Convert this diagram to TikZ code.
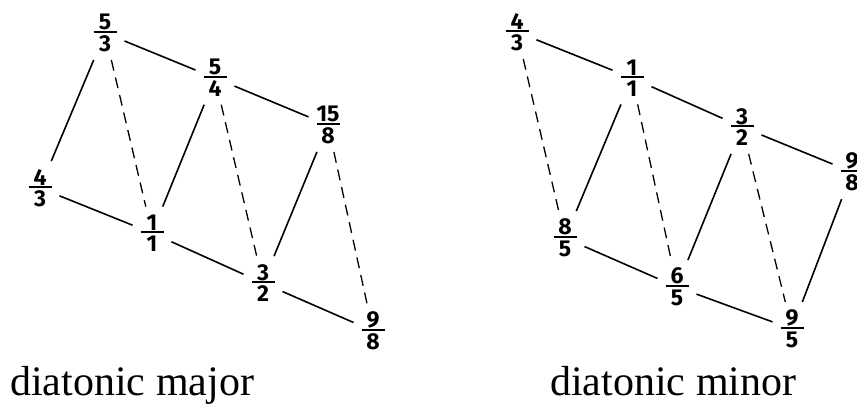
\documentclass[tikz,border=0pt]{standalone}
\usepackage{fontspec}
\setmainfont{Liberation Serif}
\newfontfamily\digitfont{Fira Sans}
\usepackage{tikz}
\usetikzlibrary{positioning}

\newcommand{\ratio}[2]{\shortstack{#1\\[-2pt]\rule{1.0em}{1.6pt}\\#2}}

\begin{document}
\begin{tikzpicture}[
  x=1pt, y=-1pt,
  tone/.style={
    rectangle, inner sep=3pt, outer sep=5pt,
    font=\digitfont\fontsize{23}{23}\selectfont\bfseries
  },
  solidln/.style={line width=1.6pt, black},
  dashln/.style={line width=1.3pt, black, dash pattern=on 11pt off 7pt},
  caption/.style={anchor=base west, inner sep=0pt, font=\fontsize{42}{46}\selectfont}
]
\useasboundingbox (0,0) rectangle (857,405);

% ---- Diatonic major ----
\node[tone] (ma53)  at (105, 33)  {\ratio{5}{3}};
\node[tone] (ma54)  at (215, 78)  {\ratio{5}{4}};
\node[tone] (ma158) at (328,125)  {\ratio{15}{8}};
\node[tone] (ma43)  at (40, 188)  {\ratio{4}{3}};
\node[tone] (ma11)  at (152,233)  {\ratio{1}{1}};
\node[tone] (ma32)  at (263,283)  {\ratio{3}{2}};
\node[tone] (ma98)  at (373,331)  {\ratio{9}{8}};

\draw[solidln] (ma53) -- (ma54);
\draw[solidln] (ma54) -- (ma158);
\draw[solidln] (ma43) -- (ma11);
\draw[solidln] (ma11) -- (ma32);
\draw[solidln] (ma32) -- (ma98);
\draw[solidln] (ma53) -- (ma43);
\draw[solidln] (ma54) -- (ma11);
\draw[solidln] (ma158) -- (ma32);
\draw[dashln]  (ma53) -- (ma11);
\draw[dashln]  (ma54) -- (ma32);
\draw[dashln]  (ma158) -- (ma98);

% ---- Diatonic minor ----
\node[tone] (mi43)  at (517, 32)  {\ratio{4}{3}};
\node[tone] (mi11)  at (632, 78)  {\ratio{1}{1}};
\node[tone] (mi32)  at (742,127)  {\ratio{3}{2}};
\node[tone] (mi98)  at (852,172)  {\ratio{9}{8}};
\node[tone] (mi85)  at (565,238)  {\ratio{8}{5}};
\node[tone] (mi65)  at (677,287)  {\ratio{6}{5}};
\node[tone] (mi95)  at (792,329)  {\ratio{9}{5}};

\draw[solidln] (mi43) -- (mi11);
\draw[solidln] (mi11) -- (mi32);
\draw[solidln] (mi32) -- (mi98);
\draw[solidln] (mi85) -- (mi65);
\draw[solidln] (mi65) -- (mi95);
\draw[solidln] (mi11) -- (mi85);
\draw[solidln] (mi32) -- (mi65);
\draw[solidln] (mi98) -- (mi95);
\draw[dashln]  (mi43) -- (mi85);
\draw[dashln]  (mi11) -- (mi65);
\draw[dashln]  (mi32) -- (mi95);

% ---- Captions ----
\node[caption] (capmajor) at (10,395)  {diatonic major};
\node[caption] (capminor) at (550,395) {diatonic minor};

\end{tikzpicture}
\end{document}
